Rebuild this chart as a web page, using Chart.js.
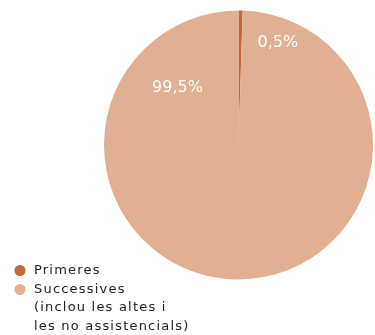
<!DOCTYPE html>
<html>
<head>
<meta charset="utf-8">
<script src="https://cdn.jsdelivr.net/npm/chart.js@4"></script>
<style>
  html, body { margin: 0; padding: 0; background: #fff; }
  #wrap { position: relative; width: 375px; height: 335px; }
</style>
</head>
<body>
<div id="wrap"><canvas id="pieChart" width="375" height="335"></canvas></div>
<script>
// Categories and shares (%)
const categories = ['Primeres', 'Successives (inclou les altes i les no assistencials)'];
const legendLines = [['Primeres'], ['Successives', '(inclou les altes i', 'les no assistencials)']];
const shares = [0.5, 99.5];
const colors = ['#C26A35', '#E1B092'];

// Where each value label sits: angle from 12 o'clock (deg) and fraction of radius
const labelAngles = [21, -47];
const labelRadii = [0.815, 0.62];

const fmt = v => v.toFixed(1).replace('.', ',') + '%';

const pieLabels = {
  id: 'pieLabels',
  afterDatasetsDraw(chart) {
    const { ctx } = chart;
    const arcs = chart.getDatasetMeta(0).data;
    ctx.save();
    ctx.font = '16px "DejaVu Sans"';
    ctx.fillStyle = '#ffffff';
    ctx.textAlign = 'center';
    ctx.textBaseline = 'middle';
    arcs.forEach((arc, i) => {
      const a = labelAngles[i] * Math.PI / 180;
      const r = arc.outerRadius * labelRadii[i];
      ctx.fillText(fmt(shares[i]), arc.x + Math.sin(a) * r, arc.y - Math.cos(a) * r);
    });
    ctx.restore();
  }
};

// Legend in the bottom-left corner, with wrapped label lines
const sideLegend = {
  id: 'sideLegend',
  afterDraw(chart) {
    const { ctx } = chart;
    ctx.save();
    ctx.font = '13px "DejaVu Sans"';
    ctx.letterSpacing = '1.2px';
    ctx.textBaseline = 'middle';
    ctx.textAlign = 'left';
    let y = 270.5;
    legendLines.forEach((lines, i) => {
      ctx.fillStyle = colors[i];
      ctx.beginPath();
      ctx.arc(20, y, 5.5, 0, Math.PI * 2);
      ctx.fill();
      ctx.fillStyle = '#222';
      lines.forEach(t => {
        ctx.fillText(t, 34, y);
        y += 18.5;
      });
      y += 0.5;
    });
    ctx.restore();
  }
};

new Chart(document.getElementById('pieChart'), {
  type: 'pie',
  data: {
    labels: categories,
    datasets: [{
      data: shares,
      backgroundColor: colors,
      borderWidth: 0
    }]
  },
  options: {
    responsive: false,
    animation: false,
    layout: { padding: { top: 10, bottom: 55, left: 104, right: 2 } },
    plugins: {
      legend: { display: false },
      tooltip: { enabled: false }
    }
  },
  plugins: [pieLabels, sideLegend]
});
</script>
</body>
</html>
